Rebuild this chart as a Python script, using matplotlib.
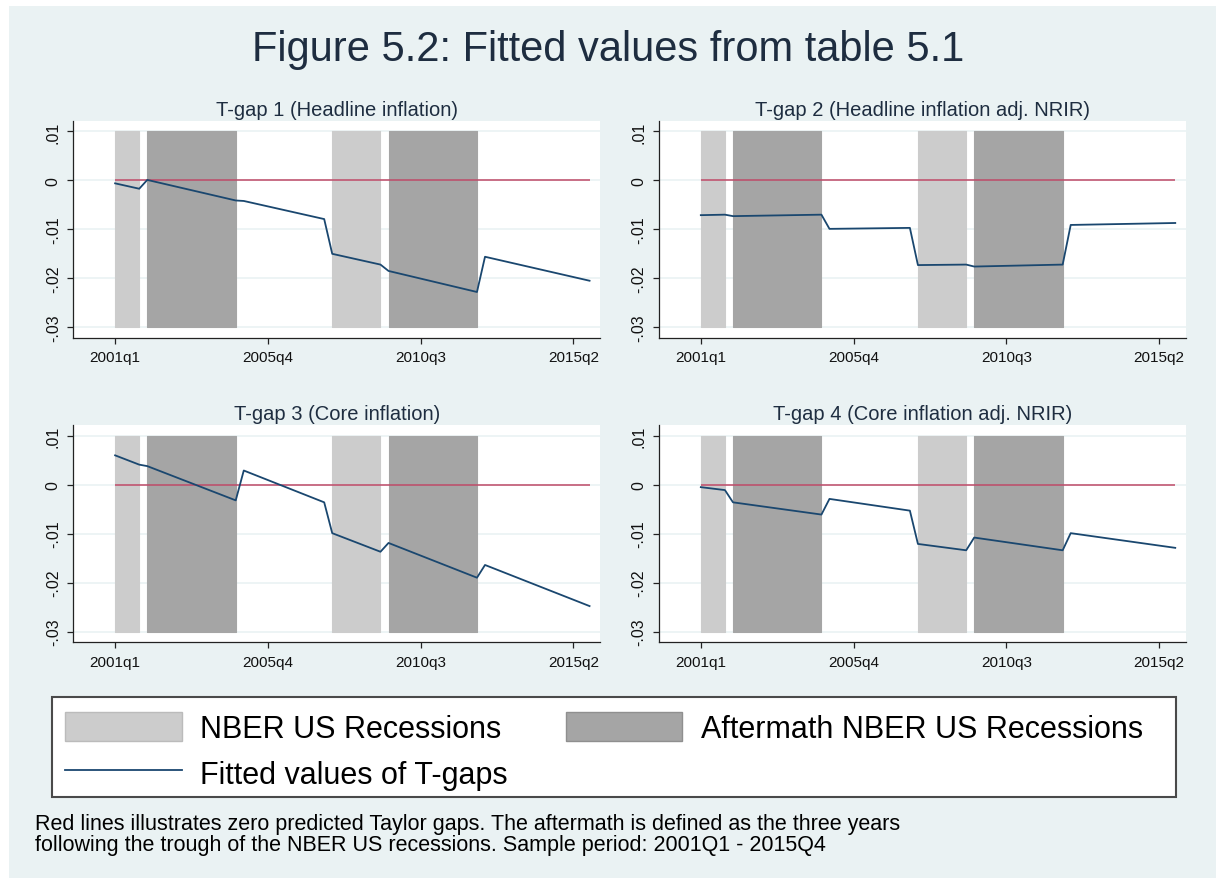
import numpy as np
import matplotlib
matplotlib.use('Agg')
import matplotlib.pyplot as plt
from matplotlib.patches import Rectangle, Patch
from matplotlib.lines import Line2D

plt.rcParams['font.family'] = ['Liberation Sans', 'DejaVu Sans']

# quarter index: 0 = 2001q1 ... 59 = 2015q4
tick_pos = [0, 19, 38, 57]
tick_labels = ['2001q1', '2005q4', '2010q3', '2015q2']
y_ticks = [0.01, 0.0, -0.01, -0.02, -0.03]
y_labels = ['.01', '0', '-.01', '-.02', '-.03']

recessions = [(0, 3), (27, 33)]
aftermaths = [(4, 15), (34, 45)]

# fitted values read at the break points of each piecewise line
knots = [0, 3, 4, 15, 16, 26, 27, 33, 34, 45, 46, 59]
gap1 = [-0.0006, -0.0017, 0.0001, -0.0041, -0.0042, -0.0079,
        -0.0150, -0.0172, -0.0185, -0.0228, -0.0156, -0.0205]
gap2 = [-0.0071, -0.0070, -0.0073, -0.0070, -0.0099, -0.0097,
        -0.0173, -0.0172, -0.0176, -0.0172, -0.0091, -0.0087]
gap3 = [0.0060, 0.0041, 0.0038, -0.0032, 0.0029, -0.0036,
        -0.0099, -0.0137, -0.0119, -0.0190, -0.0164, -0.0248]
gap4 = [-0.0005, -0.0011, -0.0036, -0.0061, -0.0029, -0.0053,
        -0.0121, -0.0134, -0.0108, -0.0134, -0.0099, -0.0129]

titles = ['T-gap 1 (Headline inflation)',
          'T-gap 2 (Headline inflation adj. NRIR)',
          'T-gap 3 (Core inflation)',
          'T-gap 4 (Core inflation adj. NRIR)']
series = [gap1, gap2, gap3, gap4]

note = ('Red lines illustrates zero predicted Taylor gaps. The aftermath is defined as the three years\n'
        'following the trough of the NBER US recessions. Sample period: 2001Q1 - 2015Q4')

bg = '#eaf2f3'
light = '#cccccc'
dark = '#a5a5a5'
navy = '#1a476f'
red = '#bf4a68'
txt = '#1e2d40'

W, H = 1216, 879
fig = plt.figure(figsize=(W / 100, H / 100), dpi=100, facecolor='white')
fig.patches.append(Rectangle((9 / W, 0), 1 - 9 / W, 1 - 7 / H, transform=fig.transFigure,
                             facecolor=bg, edgecolor='none', zorder=-10))

fig.text(0.5, 1 - 50 / H, 'Figure 5.2: Fitted values from table 5.1', ha='center', va='center',
         fontsize=30, color=txt)

# axes boxes in pixels (left, top)
boxes = [(73.3, 121.7), (659, 121.7), (73.3, 426), (659, 426)]
aw, ah = 526.7, 217.3

for (px, py), title, y in zip(boxes, titles, series):
    ax = fig.add_axes([px / W, 1 - (py + ah) / H, aw / W, ah / H])
    ax.set_facecolor('white')
    for s, e in recessions:
        ax.fill_between([s, e], -0.03, 0.01, color=light, lw=0.8, ec=light, zorder=1)
    for s, e in aftermaths:
        ax.fill_between([s, e], -0.03, 0.01, color=dark, lw=0.8, ec=dark, zorder=1)
    ax.hlines(0, knots[0], knots[-1], color=red, lw=1.1, zorder=2)
    ax.plot(knots, y, color=navy, lw=1.3, zorder=3)
    ax.set_xlim(-5.2, 60.3)
    ax.set_ylim(-0.0322, 0.0122)
    ax.set_xticks(tick_pos)
    ax.set_xticklabels(tick_labels)
    ax.set_yticks(y_ticks)
    ax.set_yticklabels(y_labels, rotation=90, va='center')
    ax.yaxis.grid(True, color=bg, lw=1.2, zorder=0)
    ax.set_axisbelow(True)
    for sp in ['top', 'right']:
        ax.spines[sp].set_visible(False)
    for sp in ['left', 'bottom']:
        ax.spines[sp].set_color('#222222')
        ax.spines[sp].set_linewidth(0.9)
    ax.tick_params(length=4, width=0.9, color='#222222', labelsize=11, labelcolor='#111111', pad=5)
    ax.tick_params(axis='y', labelsize=11.5)
    ax.set_title(title, fontsize=14.5, color=txt, pad=4)

# legend box
fig.patches.append(Rectangle((52 / W, 1 - 798 / H), 1124 / W, 100 / H, transform=fig.transFigure,
                             facecolor='white', edgecolor='#4a4a4a', lw=1.5, zorder=5))
handles = [Patch(facecolor=light, edgecolor='#bbbbbb', label='NBER US Recessions'),
           Line2D([], [], color=navy, lw=1.3, label='Fitted values of T-gaps'),
           Patch(facecolor=dark, edgecolor='#8f8f8f', label='Aftermath NBER US Recessions')]
leg = fig.legend(handles=handles, loc='upper left', bbox_to_anchor=(44 / W, 1 - 692 / H),
                 frameon=False, ncol=2, fontsize=22, handlelength=3.81, handleheight=1.07,
                 handletextpad=0.61, columnspacing=1.88, labelspacing=0.45, borderpad=0.2)
leg.set_zorder(6)

fig.text(35 / W, 1 - 814 / H, note, ha='left', va='top', fontsize=15.5, linespacing=0.97,
         color='black')

fig.savefig('out.png', dpi=100, facecolor=fig.get_facecolor())
